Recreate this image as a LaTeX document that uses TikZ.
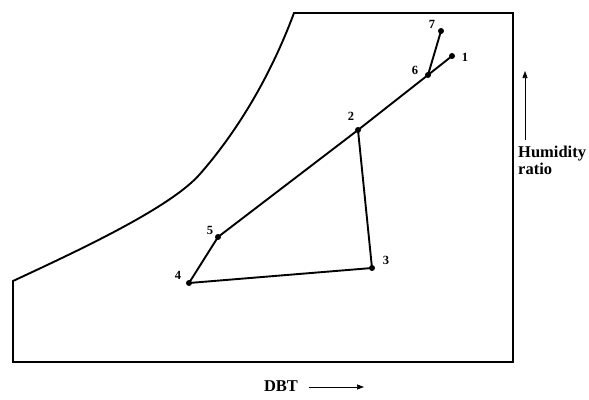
\documentclass[tikz,border=0pt]{standalone}
\usepackage{fontspec}
\setmainfont{Liberation Serif}
\usetikzlibrary{arrows.meta}
\begin{document}
\begin{tikzpicture}[x=1pt,y=-1pt,
  frameline/.style={line width=1.9pt,line join=miter},
  procline/.style={line width=1.9pt},
  pt/.style={circle,fill=black,inner sep=0pt,minimum size=6pt},
  lbl/.style={font=\bfseries\fontsize{12.5}{14}\selectfont,inner sep=1pt},
  axlbl/.style={font=\bfseries\fontsize{16.5}{17}\selectfont,inner sep=0pt,align=left},
  axarrow/.style={line width=0.7pt,-{Triangle[length=7pt,width=5pt]}}]
\useasboundingbox (0,0) rectangle (589,399);
% frame with saturation curve
\draw[frameline] (13,281) .. controls (73,253) and (170,208.5) .. (200,174)
  .. controls (235,134) and (269,80) .. (294,13)
  -- (513,13) -- (513,362) -- (13,362) -- cycle;
% state points
\node[pt] (p1) at (452,56) {};
\node[pt] (p2) at (358,130) {};
\node[pt] (p3) at (372,268) {};
\node[pt] (p4) at (189,283) {};
\node[pt] (p5) at (218,237) {};
\node[pt] (p6) at (428,75) {};
\node[pt] (p7) at (441,31) {};
% labels
\node[lbl] (l1) at (465,57) {1};
\node[lbl] (l2) at (351,116) {2};
\node[lbl] (l3) at (386,260) {3};
\node[lbl] (l4) at (178,275) {4};
\node[lbl] (l5) at (210,230) {5};
\node[lbl] (l6) at (415,70) {6};
\node[lbl] (l7) at (432,24) {7};
% process lines
\draw[procline] (p1.center) -- (p6.center) -- (p2.center) -- (p5.center);
\draw[procline] (p6.center) -- (p7.center);
\draw[procline] (p2.center) -- (p3.center) -- (p4.center) -- (p5.center);
% axes labels
\node[axlbl,anchor=west] (hr) at (518,160) {Humidity\\ratio};
\coordinate (hrs) at (525,140);
\coordinate (hre) at (525,71);
\draw[axarrow] (hrs) -- (hre);
\node[axlbl] (dbt) at (281,386) {DBT};
\coordinate (dbs) at (309,387);
\coordinate (dbe) at (364,387);
\draw[axarrow] (dbs) -- (dbe);
\end{tikzpicture}
\end{document}
